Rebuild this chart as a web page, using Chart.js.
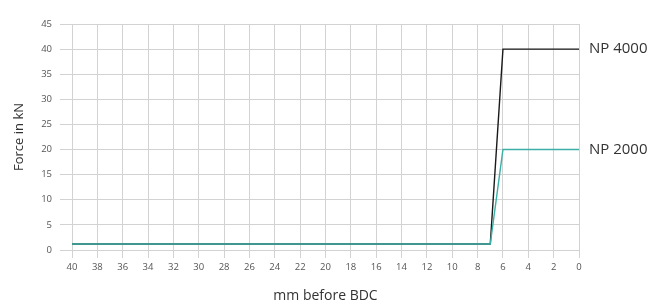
<!DOCTYPE html>
<html>
<head>
<meta charset="utf-8">
<script src="https://cdn.jsdelivr.net/npm/chart.js@4"></script>
<style>
html,body{margin:0;padding:0;background:#fff;}
#wrap{width:661px;height:304px;position:relative;}
</style>
</head>
<body>
<div id="wrap"><canvas id="c" width="661" height="304"></canvas></div>
<script>
const xTicks = [40,38,36,34,32,30,28,26,24,22,20,18,16,14,12,10,8,6,4,2,0];
const yTicks = [0,5,10,15,20,25,30,35,40,45];
const seriesNames = ["NP 2000","NP 4000"];
const np2000X = [40, 7, 6, 0];
const np2000Y = [1.2, 1.2, 20, 20];
const np4000X = [40, 7, 6, 0];
const np4000Y = [1.2, 1.2, 40, 40];
const colors = ["#3cb0a6", "#1a1a1a"];

const toPts = (xs, ys) => xs.map((x, i) => ({x: x, y: ys[i]}));

const endLabels = {
  id: 'endLabels',
  afterDatasetsDraw(chart) {
    const ctx = chart.ctx;
    ctx.save();
    ctx.font = '15px "Open Sans", "DejaVu Sans", sans-serif';
    ctx.fillStyle = '#333';
    ctx.textBaseline = 'middle';
    ctx.textAlign = 'left';
    chart.data.datasets.forEach((ds, i) => {
      const meta = chart.getDatasetMeta(i);
      const last = meta.data[meta.data.length - 1];
      ctx.fillText(ds.label, last.x + 10, last.y);
    });
    ctx.restore();
  }
};

new Chart(document.getElementById('c'), {
  type: 'line',
  data: {
    datasets: [
      {label: seriesNames[0], data: toPts(np2000X, np2000Y), borderColor: colors[0], borderWidth: 1.4, pointRadius: 0, fill: false, tension: 0},
      {label: seriesNames[1], data: toPts(np4000X, np4000Y), borderColor: colors[1], borderWidth: 1.4, pointRadius: 0, fill: false, tension: 0}
    ]
  },
  options: {
    responsive: false,
    animation: false,
    layout: {padding: {top: 24, right: 82, left: 0, bottom: 0}},
    plugins: {legend: {display: false}, tooltip: {enabled: false}},
    scales: {
      x: {
        type: 'linear',
        reverse: true,
        min: 0, max: 40,
        afterBuildTicks: s => { s.ticks = xTicks.map(v => ({value: v})); },
        afterFit: s => { s.height = 54; },
        grid: {color: '#d2d2d2', lineWidth: 1, tickLength: 8, drawTicks: true},
        border: {display: false},
        ticks: {color: '#555', font: {size: 9.5, family: '"Open Sans", "DejaVu Sans", sans-serif'}, padding: 4, maxRotation: 0, autoSkip: false},
        title: {display: true, text: 'mm before BDC', color: '#333', font: {size: 14, family: '"Open Sans", "DejaVu Sans", sans-serif'}, padding: {top: 4, bottom: 0}}
      },
      y: {
        type: 'linear',
        min: 0, max: 45,
        afterBuildTicks: s => { s.ticks = yTicks.map(v => ({value: v})); },
        afterFit: s => { s.width = 72; },
        grid: {color: '#d2d2d2', lineWidth: 1, tickLength: 12, drawTicks: true},
        border: {display: false},
        ticks: {color: '#555', font: {size: 9.5, family: '"Open Sans", "DejaVu Sans", sans-serif'}, padding: 8, autoSkip: false},
        title: {display: true, text: 'Force in kN', color: '#333', font: {size: 13, family: '"Open Sans", "DejaVu Sans", sans-serif'}, padding: {top: 11, bottom: 4}}
      }
    }
  },
  plugins: [endLabels]
});
</script>
</body>
</html>
